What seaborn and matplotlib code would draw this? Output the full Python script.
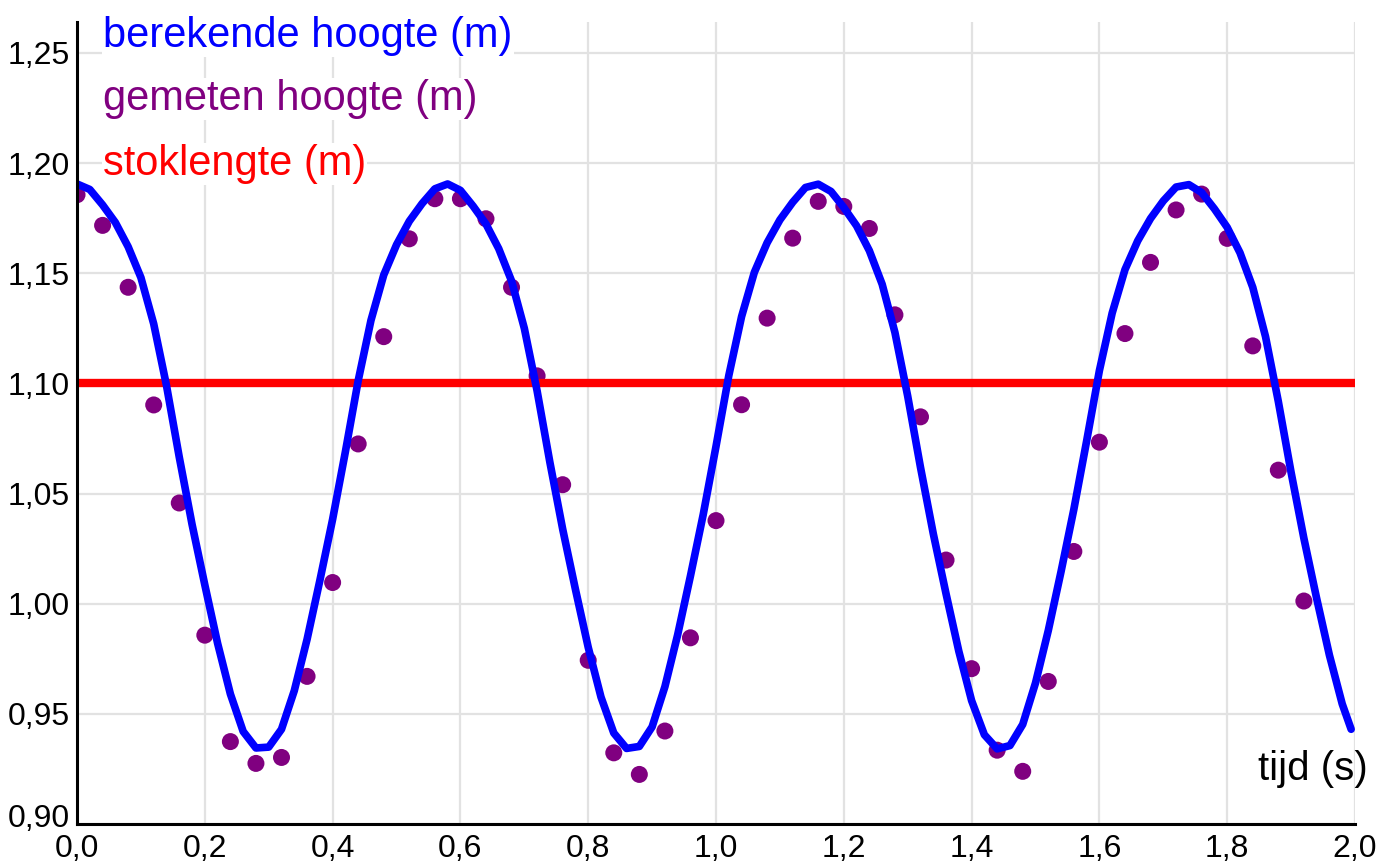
import numpy as np
import matplotlib
matplotlib.use('Agg')
import matplotlib.pyplot as plt
import seaborn as sns
from matplotlib.ticker import MultipleLocator, FuncFormatter
from matplotlib.transforms import ScaledTranslation

# --- DATA ---
# calculated height (blue curve), sampled every 0.02 s
t_calc = [round(0.02 * i, 2) for i in range(100)] + [1.994]
h_calc = [
    1.1905, 1.1880, 1.1810, 1.1730, 1.1620, 1.1480, 1.1270, 1.0990, 1.0665, 1.0360,
    1.0085, 0.9820, 0.9590, 0.9420, 0.9345, 0.9349, 0.9430, 0.9605, 0.9838, 1.0105,
    1.0383, 1.0690, 1.1012, 1.1286, 1.1492, 1.1629, 1.1736, 1.1816, 1.1883, 1.1905,
    1.1876, 1.1804, 1.1723, 1.1611, 1.1465, 1.1250, 1.0966, 1.0642, 1.0339, 1.0065,
    0.9802, 0.9576, 0.9413, 0.9343, 0.9352, 0.9441, 0.9623, 0.9859, 1.0126, 1.0405,
    1.0714, 1.1035, 1.1303, 1.1504, 1.1638, 1.1742, 1.1822, 1.1889, 1.1904, 1.1871,
    1.1798, 1.1715, 1.1602, 1.1450, 1.1231, 1.0942, 1.0619, 1.0318, 1.0045, 0.9784,
    0.9560, 0.9405, 0.9341, 0.9356, 0.9452, 0.9640, 0.9878, 1.0146, 1.0428, 1.0738,
    1.1058, 1.1319, 1.1516, 1.1647, 1.1748, 1.1828, 1.1891, 1.1902, 1.1866, 1.1792,
    1.1708, 1.1593, 1.1436, 1.1212, 1.0918, 1.0596, 1.0297, 1.0024, 0.9766, 0.9545,
    0.9430,
]

# measured height (purple dots), every 0.04 s
t_meas = [round(0.04 * i, 2) for i in range(49)]
h_meas = [
    1.1856, 1.1717, 1.1436, 1.0902, 1.0457, 0.9857, 0.9374, 0.9275, 0.9302, 0.9670,
    1.0096, 1.0725, 1.1212, 1.1656, 1.1838, 1.1838, 1.1747, 1.1436, 1.1034, 1.0540,
    0.9743, 0.9323, 0.9225, 0.9422, 0.9845, 1.0377, 1.0903, 1.1296, 1.1659, 1.1826,
    1.1803, 1.1703, 1.1311, 1.0848, 1.0198, 0.9705, 0.9335, 0.9239, 0.9647, 1.0237,
    1.0733, 1.1226, 1.1549, 1.1787, 1.1859, 1.1658, 1.1170, 1.0606, 1.0012,
]

# stick length (red line)
t_stok = [0.0, 2.0]
h_stok = [1.10, 1.10]

labels = ['berekende hoogte (m)', 'gemeten hoogte (m)', 'stoklengte (m)']
colors = ['#0000ff', '#800080', '#ff0000']

# --- STYLE ---
sns.set_theme(style='white')
plt.rcParams['font.family'] = ['Liberation Sans', 'DejaVu Sans']

fig = plt.figure(figsize=(13.78, 8.67), dpi=100)
ax = fig.add_axes([0.0559, 0.0496, 0.9274, 0.9250])

sns.scatterplot(x=t_meas, y=h_meas, color=colors[1], s=150, edgecolor='none',
                linewidth=0, ax=ax, zorder=3)
sns.lineplot(x=t_stok, y=h_stok, color=colors[2], linewidth=6, ax=ax,
             estimator=None, sort=False, zorder=4)
sns.lineplot(x=t_calc, y=h_calc, color=colors[0], linewidth=5.5, ax=ax,
             estimator=None, sort=False, zorder=5)
ax.lines[-1].set_solid_joinstyle('round')
ax.lines[-1].set_solid_capstyle('round')

ax.set_xlim(0, 2.0)
ax.set_ylim(0.90, 1.264)

ax.xaxis.set_major_locator(MultipleLocator(0.2))
ax.xaxis.set_minor_locator(MultipleLocator(0.05))
ax.yaxis.set_major_locator(MultipleLocator(0.05))
ax.yaxis.set_minor_locator(MultipleLocator(0.01))
ax.xaxis.set_major_formatter(FuncFormatter(lambda v, p: f'{v:.1f}'.replace('.', ',')))
ax.yaxis.set_major_formatter(FuncFormatter(lambda v, p: f'{v:.2f}'.replace('.', ',')))

ax.grid(True, which='major', color='#e2e2e2', linewidth=1.6, zorder=0)
ax.set_axisbelow(True)

for s in ['top', 'right']:
    ax.spines[s].set_visible(False)
for s in ['left', 'bottom']:
    ax.spines[s].set_color('black')
    ax.spines[s].set_linewidth(2.2)
    ax.spines[s].set_zorder(6)

ax.tick_params(axis='x', which='major', direction='in', length=16, width=1.6,
               color='black', labelsize=23, pad=7, labelcolor='black')
ax.tick_params(axis='x', which='minor', direction='in', length=9, width=1.6, color='black')
ax.tick_params(axis='y', which='major', direction='in', length=9.5, width=1.6,
               color='black', labelsize=23, pad=5, labelcolor='black')
ax.tick_params(axis='y', which='minor', direction='in', length=6, width=1.6, color='black')
ax.set_xlabel('')
ax.set_ylabel('')

# lift the lowest y label a little so it clears the "0,0" below it
fig.canvas.draw()
for lab in ax.get_yticklabels():
    if lab.get_text() == '0,90':
        lab.set_transform(lab.get_transform() + ScaledTranslation(0, 6 / 72, fig.dpi_scale_trans))

# legend as coloured text lines
for lab, col, yy in zip(labels, colors, [0.9688, 0.8903, 0.8092]):
    ax.text(0.0203, yy, lab, transform=ax.transAxes, color=col, fontsize=30,
            ha='left', va='baseline', zorder=2.5,
            bbox=dict(facecolor='white', edgecolor='none', pad=1))

ax.text(1.0102, 0.0549, 'tijd (s)', transform=ax.transAxes, color='black',
        fontsize=29, ha='right', va='baseline', zorder=7)

fig.savefig('out.png', dpi=100)
